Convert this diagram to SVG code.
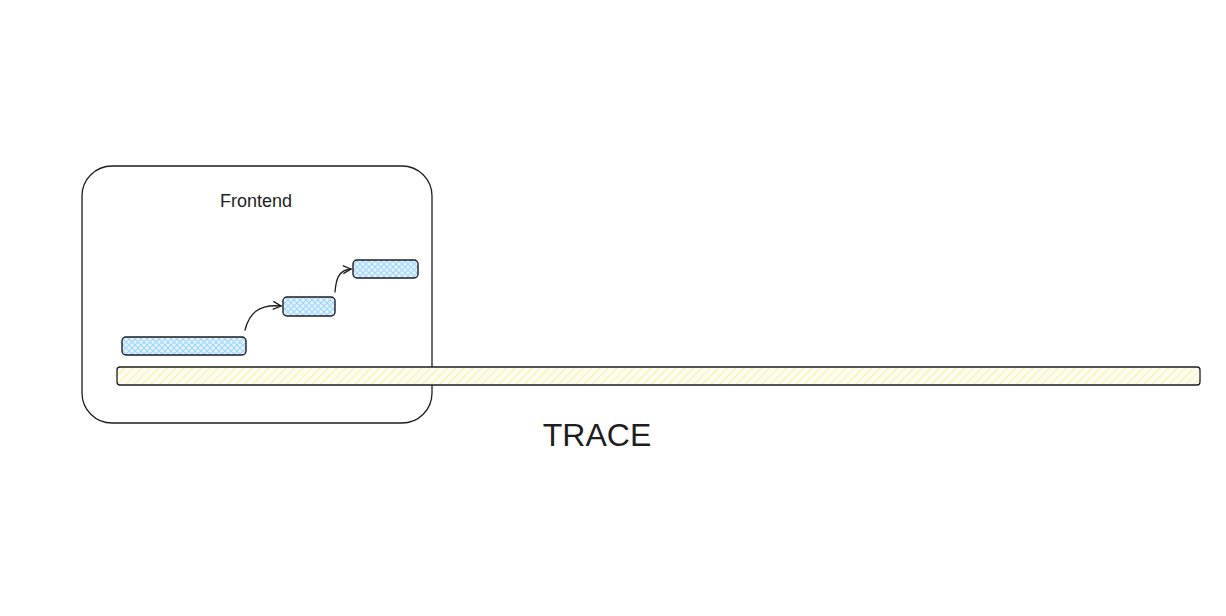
<svg xmlns="http://www.w3.org/2000/svg" width="1226" height="616" viewBox="0 0 1226 616">
<style>
.frame{fill:none;stroke:#1e1e1e;stroke-width:1.3}
.span{fill:url(#blueHatch);stroke:#1e1e1e;stroke-width:1.4}
.trace{fill:url(#yellowHatch);stroke:#1e1e1e;stroke-width:1.3}
.conn{fill:none;stroke:#1e1e1e;stroke-width:1.3;stroke-linecap:round}
.lbl{font-family:"Comic Sans MS","Liberation Sans",sans-serif;fill:#1e1e1e;text-anchor:middle}
</style>
<defs>
<pattern id="blueHatch" width="6" height="6" patternUnits="userSpaceOnUse">
<rect width="6" height="6" fill="#eaf5ff"/>
<path d="M0,0 L6,6 M6,0 L0,6" stroke="#a5d8ff" stroke-width="1.3"/>
</pattern>
<pattern id="yellowHatch" width="6" height="6" patternUnits="userSpaceOnUse" patternTransform="rotate(45)">
<rect width="6" height="6" fill="#fffdf3"/>
<line x1="0" y1="0" x2="0" y2="6" stroke="#ffec99" stroke-width="2"/>
</pattern>
<marker id="ah" markerWidth="10" markerHeight="10" refX="9" refY="5" orient="auto" markerUnits="userSpaceOnUse">
<path d="M1,1 L9,5 L1,9" fill="none" stroke="#1e1e1e" stroke-width="1.3"/>
</marker>
</defs>
<g id="frontend-frame">
<rect class="frame" x="82" y="166" width="350" height="257" rx="30"/>
<text class="lbl" x="256" y="207" font-size="18">Frontend</text>
</g>
<g id="trace-bar">
<rect class="trace" x="117" y="367" width="1083" height="18" rx="3"/>
</g>
<g id="span1">
<rect class="span" x="122" y="337" width="124" height="18" rx="4"/>
</g>
<g id="span2">
<rect class="span" x="283" y="297" width="52" height="19" rx="4"/>
</g>
<g id="span3">
<rect class="span" x="353" y="260" width="65" height="18" rx="4"/>
</g>
<g id="connectors">
<path class="conn" d="M245,330 C249,314 258,304 281,306" marker-end="url(#ah)"/>
<path class="conn" d="M335,292 C336,280 338,270 351,269" marker-end="url(#ah)"/>
</g>
<g id="trace-label">
<text class="lbl" x="597" y="446" font-size="32">TRACE</text>
</g>
</svg>
